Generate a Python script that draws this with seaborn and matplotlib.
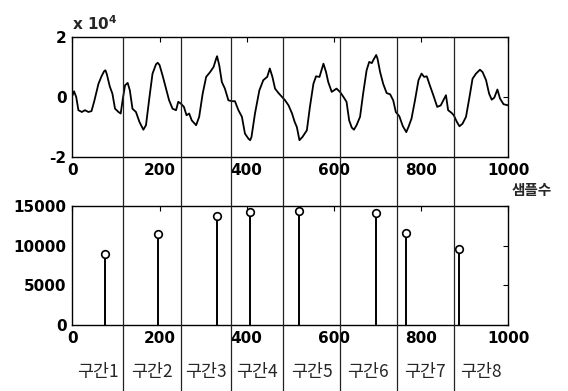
import matplotlib
matplotlib.use("Agg")
import matplotlib.pyplot as plt
import seaborn as sns
import pandas as pd
from matplotlib.lines import Line2D
from matplotlib.transforms import blended_transform_factory

# ---- data ----
sample_idx = [0, 4, 9, 14, 22, 29, 37, 44, 50, 60, 67, 73, 76, 79, 86, 92, 98, 106, 111, 116,
              121, 127, 132, 138, 146, 154, 163, 169, 177, 184, 192, 196, 200, 207, 215, 222, 230,
              238, 243, 249, 256, 262, 268, 274, 284, 291, 299, 307, 316, 324, 330, 332, 337, 343,
              350, 358, 366, 373, 381, 389, 396, 404, 408, 411, 419, 429, 438, 447, 453, 459, 465,
              473, 481, 488, 496, 504, 510, 515, 521, 528, 538, 545, 553, 559, 567, 576, 582, 587,
              595, 600, 606, 614, 622, 629, 635, 641, 646, 652, 660, 667, 675, 681, 687, 690, 697,
              700, 706, 713, 721, 729, 736, 742, 750, 758, 766, 771, 778, 786, 794, 801, 807, 813,
              820, 828, 837, 845, 851, 857, 862, 870, 875, 882, 888, 895, 903, 911, 918, 926, 935,
              941, 949, 956, 962, 968, 975, 981, 989, 1000]
amplitude = [500, 2000, 100, -4300, -4900, -4300, -4900, -4600, -1500, 4500, 7000, 8700, 9000,
             7800, 3600, 1200, -3800, -4900, -5400, -400, 4000, 4800, 2300, -3800, -4900, -8200,
             -10800, -9300, 100, 7900, 11000, 11500, 10800, 7300, 2900, -1000, -3800, -4300, -1500,
             -2100, -3200, -6000, -5400, -7700, -9300, -6500, 1200, 6800, 8400, 10100, 12900, 13700,
             10700, 5100, 2900, -1000, -1300, -1300, -4300, -6500, -12100, -13800, -14300, -13200,
             -5400, 2300, 5700, 6800, 9600, 6800, 2900, 1400, 100, -1000, -2700, -5400, -8200,
             -9900, -14300, -13200, -11000, -3200, 4500, 7000, 6800, 11200, 8400, 5100, 1800, 2300,
             2900, 1800, 100, -1500, -7700, -10100, -10800, -9300, -6500, 1200, 9000, 11800, 11400,
             12300, 14100, 12900, 8400, 4500, 1400, 1000, -1000, -4900, -6300, -9600, -11600,
             -9900, -7100, -1000, 5700, 7900, 6800, 7000, 4000, 700, -3200, -2700, -1000, 700,
             -4300, -5200, -6000, -8200, -9650, -8800, -6500, 100, 6200, 7900, 9200, 8400, 5700,
             1200, -800, -100, 2600, -400, -2300, -2700]

stem_pos = [76, 196, 332, 408, 521, 697, 766, 888]
stem_val = [9000, 11530, 13740, 14290, 14330, 14120, 11570, 9640]

boundaries = [116, 249, 365, 483, 614, 744, 875]
seg_labels = ["구간1", "구간2", "구간3", "구간4", "구간5", "구간6", "구간7", "구간8"]

x_ticks = [0, 200, 400, 600, 800, 1000]
top_yticks = [-20000, 0, 20000]
top_ylabels = ["-2", "0", "2"]
bot_yticks = [0, 5000, 10000, 15000]
x_unit_label = "샘플수"

# ---- style ----
sns.set_theme(style="white")
plt.rcParams["font.family"] = ["DejaVu Sans", "Noto Sans CJK KR"]
plt.rcParams["font.weight"] = "bold"
plt.rcParams["axes.edgecolor"] = "black"
plt.rcParams["axes.linewidth"] = 1.0

W, H = 568, 391
fig = plt.figure(figsize=(W / 100, H / 100), dpi=100)
fig.patch.set_facecolor("white")

left = 72.3 / W
width = 436 / W
ax1 = fig.add_axes([left, (H - 157.3) / H, width, 120 / H])
ax2 = fig.add_axes([left, (H - 325) / H, width, 119 / H])

wave = pd.DataFrame({"n": sample_idx, "a": amplitude})
sns.lineplot(data=wave, x="n", y="a", ax=ax1, color="black", linewidth=1.3)

stems = pd.DataFrame({"n": stem_pos, "v": stem_val})
ax2.vlines(stems["n"], 0, stems["v"], color="black", linewidth=1.4)
sns.scatterplot(data=stems, x="n", y="v", ax=ax2, marker="o", s=30,
                facecolor="white", edgecolor="black", linewidth=1.2, zorder=3)

fs = 11
for ax in (ax1, ax2):
    ax.set_xlim(0, 1000)
    ax.set_xticks(x_ticks)
    ax.set_xticklabels([str(t) for t in x_ticks], fontsize=fs, fontweight="bold")
    ax.set_xlabel("")
    ax.set_ylabel("")
    ax.tick_params(direction="in", top=True, right=True, length=3.5, width=0.8,
                   colors="black", pad=4, labelsize=fs)
    ax.set_facecolor("white")
    for s in ax.spines.values():
        s.set_visible(True)
        s.set_color("black")

ax1.set_ylim(-20000, 20000)
ax1.set_yticks(top_yticks)
ax1.set_yticklabels(top_ylabels, fontsize=fs, fontweight="bold")
ax1.text(0.0, 1.04, r"x 10$^{4}$", transform=ax1.transAxes, ha="left", va="bottom",
         fontsize=fs, fontweight="bold")

ax2.set_ylim(0, 15000)
ax2.set_yticks(bot_yticks)
ax2.set_yticklabels([str(t) for t in bot_yticks], fontsize=fs, fontweight="bold")

# x unit label under the 1000 tick
fig.text(532 / W, 1 - 190 / H, x_unit_label, ha="center", va="center", fontsize=10.5,
         family=["Noto Sans CJK KR", "DejaVu Sans"], fontweight="bold")

# segment boundaries spanning the whole figure height below top of upper axes
tr = blended_transform_factory(ax1.transData, fig.transFigure)
top_frac = 1 - 37.3 / H
for b in boundaries:
    fig.add_artist(Line2D([b, b], [0, top_frac], transform=tr, color="#222222",
                          linewidth=0.9, zorder=5))

edges = [0] + boundaries + [1000]
for i, lab in enumerate(seg_labels):
    c = (edges[i] + edges[i + 1]) / 2
    fig.text(c, 1 - 372 / H, lab, transform=tr, ha="center", va="center", fontsize=12.5,
             family=["Noto Sans CJK KR", "DejaVu Sans"], fontweight="medium")

fig.savefig("out.png", dpi=100, facecolor="white")
